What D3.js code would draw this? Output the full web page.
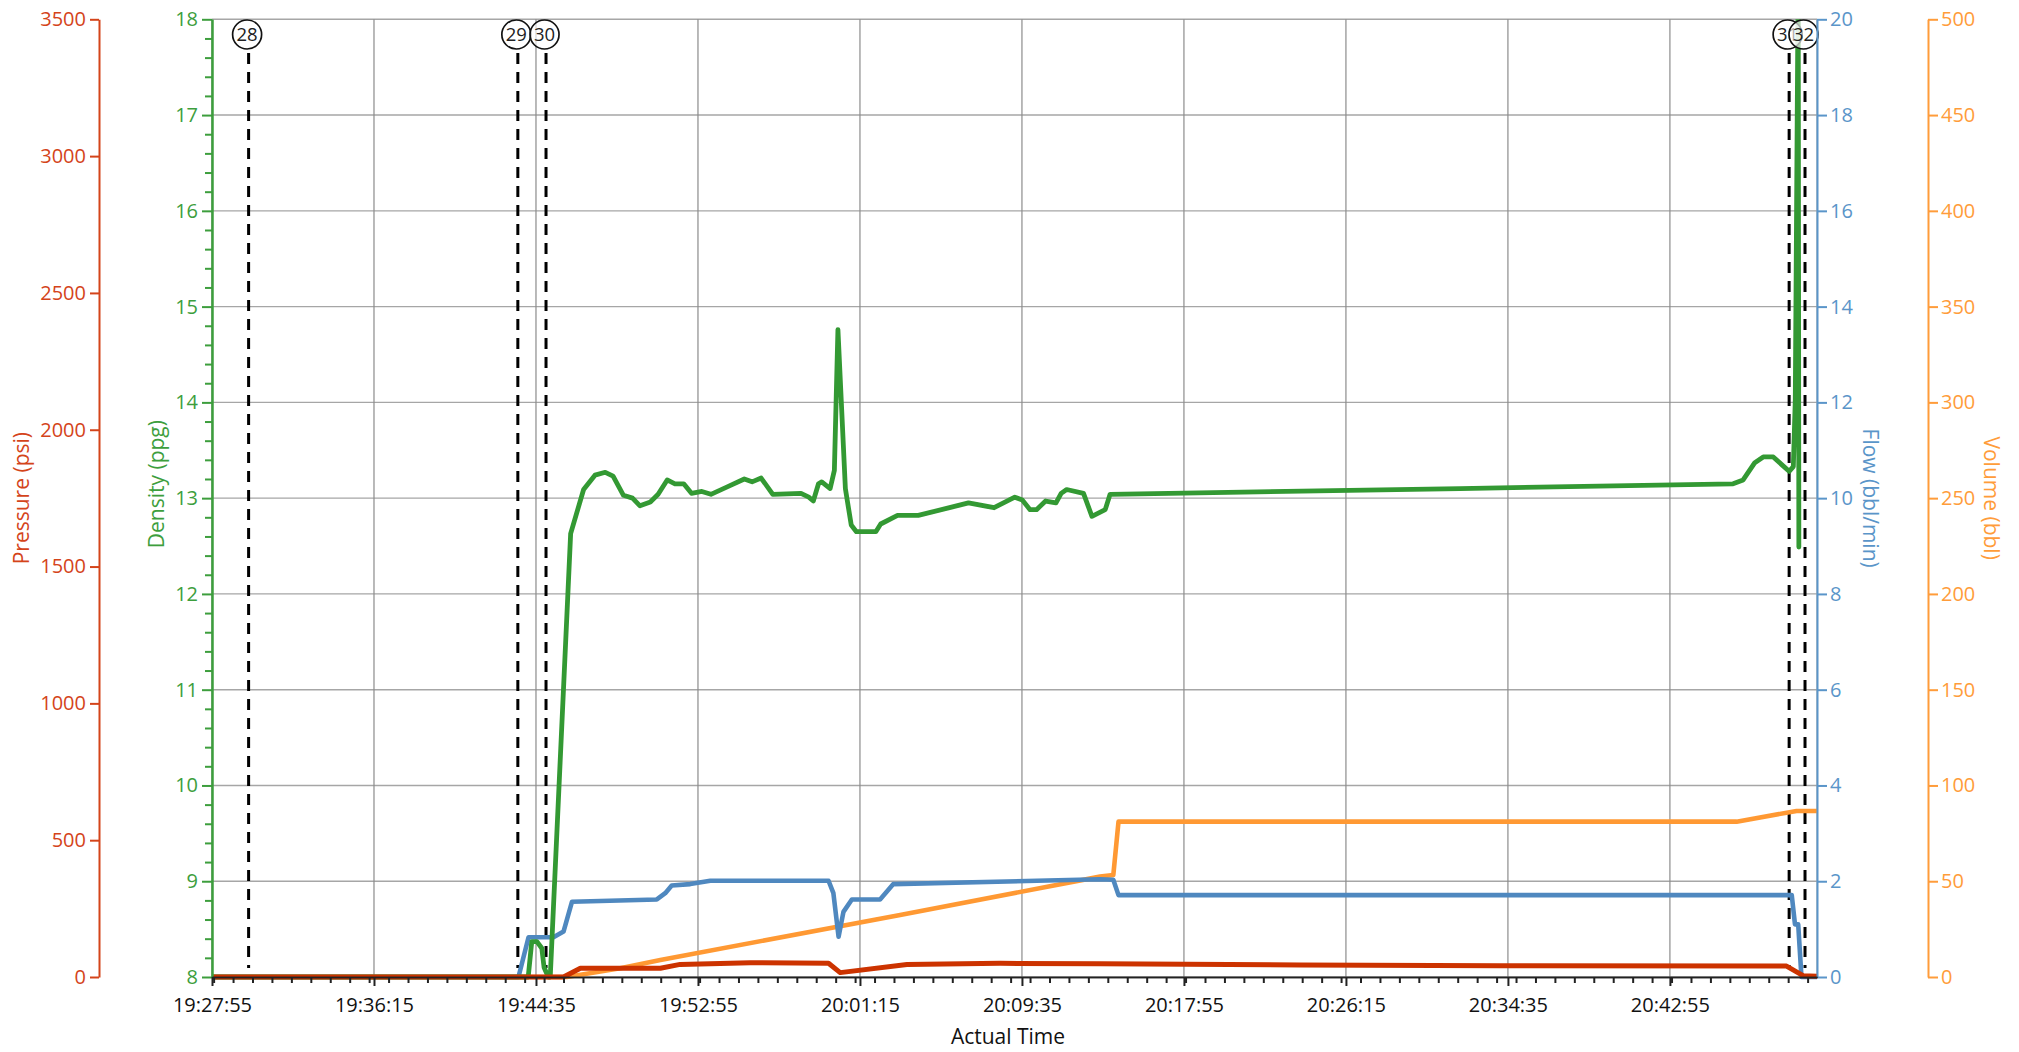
<!DOCTYPE html>
<html><head><meta charset="utf-8">
<script src="https://cdn.jsdelivr.net/npm/d3@7"></script>
<style>
html,body{margin:0;padding:0;background:#fff;}
svg{display:block;}
text{font-family:"Open Sans",sans-serif;}
</style></head><body>
<svg id="chart" width="2019" height="1052"></svg>
<script>
// ---------- DATA ----------
const startTime = "19:27:55";
const endTime = "20:50:29";
const xTickLabels = ["19:27:55","19:36:15","19:44:35","19:52:55","20:01:15","20:09:35","20:17:55","20:26:15","20:34:35","20:42:55"];
const pressureTicks = [0,500,1000,1500,2000,2500,3000,3500];
const densityTicks = [8,9,10,11,12,13,14,15,16,17,18];
const flowTicks = [0,2,4,6,8,10,12,14,16,18,20];
const volumeTicks = [0,50,100,150,200,250,300,350,400,450,500];

const densityTimes = ["19:27:55","19:44:11","19:44:22","19:44:38","19:44:53","19:45:00","19:45:13","19:45:19","19:46:22","19:47:02","19:47:37","19:48:09","19:48:33","19:49:05","19:49:33","19:49:56","19:50:28","19:50:52","19:51:20","19:51:44","19:52:11","19:52:35","19:53:07","19:53:35","19:54:27","19:55:18","19:55:42","19:56:10","19:56:46","19:58:13","19:58:37","19:58:51","19:59:07","19:59:17","19:59:43","19:59:56","20:00:07","20:00:30","20:00:48","20:01:04","20:02:04","20:02:19","20:03:11","20:04:15","20:06:50","20:08:09","20:09:13","20:09:36","20:10:00","20:10:20","20:10:48","20:11:20","20:11:36","20:11:53","20:12:45","20:13:11","20:13:52","20:14:07","20:32:07","20:46:10","20:46:41","20:47:17","20:47:43","20:48:14","20:48:40","20:49:03","20:49:16","20:49:22","20:49:31","20:49:33"];
const densityValues = [8,8,8.37,8.37,8.3,8.1,8,8,12.63,13.09,13.24,13.27,13.23,13.03,13.0,12.92,12.96,13.04,13.19,13.15,13.15,13.05,13.07,13.04,13.12,13.20,13.17,13.21,13.04,13.05,13.01,12.97,13.15,13.17,13.10,13.29,14.76,13.1,12.72,12.65,12.65,12.73,12.82,12.82,12.95,12.90,13.01,12.98,12.88,12.88,12.97,12.95,13.05,13.09,13.05,12.81,12.88,13.04,13.10,13.15,13.19,13.37,13.43,13.43,13.35,13.28,13.33,14.03,18.5,12.49];

const flowTimes = ["19:27:55","19:43:41","19:44:12","19:45:29","19:46:00","19:46:26","19:50:48","19:51:14","19:51:34","19:52:31","19:53:33","19:59:38","19:59:53","20:00:09","20:00:24","20:00:50","20:02:17","20:02:58","20:13:36","20:14:17","20:14:33","20:49:11","20:49:21","20:49:31","20:49:41","20:50:29"];
const flowValues = [0,0,0.83,0.83,0.95,1.57,1.62,1.75,1.91,1.94,2.01,2.01,1.75,0.84,1.36,1.62,1.62,1.94,2.04,2.03,1.71,1.71,1.1,1.1,0,0];

const pressureTimes = ["19:27:55","19:46:00","19:46:52","19:50:59","19:52:00","19:55:36","19:59:38","20:00:14","20:03:40","20:08:28","20:13:36","20:23:54","20:34:10","20:48:55","20:49:46","20:50:29"];
const pressureValues = [0,0,32,32,46,52,50,16,46,50,48,44,41,40,5,3];

const volumeTimes = ["19:27:55","19:46:10","19:48:55","19:50:59","20:03:19","20:13:36","20:14:17","20:14:33","20:46:21","20:49:26","20:50:29"];
const volumeValues = [0,0,4.6,8.9,32.4,52.4,53.3,81.1,81.1,86.7,86.7];

const eventLabels = ["28","29","30","31","32"];
const eventTimes = ["19:29:48","19:43:39","19:45:06","20:49:03","20:49:52"];

// ---------- LAYOUT ----------
const L = 212, R = 1817, T = 19.3, B = 977;
const cPressAxis = "#d4441a", cPressLine = "#cc3300";
const cDensAxis = "#3d9e3d", cDensLine = "#339933";
const cFlowAxis = "#5a95c9", cFlowLine = "#4f88bf";
const cVolAxis = "#ff9c3a", cVolLine = "#ff9933";

const parse = d3.timeParse("%H:%M:%S");
const svg = d3.select("#chart");

const x = d3.scaleTime().domain([parse(startTime), parse(endTime)]).range([L, R]);
const yP = d3.scaleLinear().domain([0,3500]).range([B,T]);
const yD = d3.scaleLinear().domain([8,18]).range([B,T]);
const yF = d3.scaleLinear().domain([0,20]).range([B,T]);
const yV = d3.scaleLinear().domain([0,500]).range([B,T]);

// grid
const grid = svg.append("g");
grid.selectAll("line.h").data(densityTicks).join("line")
  .attr("x1", L).attr("x2", R).attr("y1", d=>yD(d)).attr("y2", d=>yD(d))
  .attr("stroke", "#a6a6a6").attr("stroke-width", 1.4);
const xTickDates = xTickLabels.map(parse);
grid.selectAll("line.v").data(xTickDates).join("line")
  .attr("x1", d=>x(d)).attr("x2", d=>x(d)).attr("y1", T).attr("y2", B)
  .attr("stroke", "#8c8c8c").attr("stroke-width", 1.2);
grid.append("line").attr("x1", R).attr("x2", R).attr("y1", T).attr("y2", B)
  .attr("stroke", "#a6a6a6").attr("stroke-width", 1.2);

// clip
svg.append("clipPath").attr("id","plotclip").append("rect")
  .attr("x", L).attr("y", T).attr("width", R-L).attr("height", B-T+4);

// event dashed lines
const ev = eventTimes.map((t,i)=>({t:parse(t), label:eventLabels[i]}));
svg.append("g").selectAll("line").data(ev).join("line")
  .attr("x1", d=>x(d.t)).attr("x2", d=>x(d.t)).attr("y1", 53).attr("y2", 968)
  .attr("stroke", "#000").attr("stroke-width", 3).attr("stroke-dasharray", "11,8");

// lines
const plot = svg.append("g").attr("clip-path","url(#plotclip)");
function drawLine(times, values, y, color, w){
  const data = times.map((t,i)=>({t:parse(t), v:values[i]}));
  plot.append("path").datum(data)
    .attr("fill","none").attr("stroke",color).attr("stroke-width",w)
    .attr("stroke-linejoin","round").attr("stroke-linecap","round")
    .attr("d", d3.line().x(d=>x(d.t)).y(d=>y(d.v)));
}
drawLine(volumeTimes, volumeValues, yV, cVolLine, 4.6);
drawLine(flowTimes, flowValues, yF, cFlowLine, 4.6);
drawLine(densityTimes, densityValues, yD, cDensLine, 4.8);
drawLine(pressureTimes, pressureValues, yP, cPressLine, 5);

// event markers
const evg = svg.append("g").selectAll("g").data(ev).join("g")
  .attr("transform", d=>`translate(${x(d.t)-1.5},34.5)`);
evg.append("circle").attr("r", 14.5).attr("fill","rgba(255,255,255,0.65)")
  .attr("stroke","#111").attr("stroke-width",1.7);
evg.append("text").text(d=>d.label).attr("text-anchor","middle").attr("dy","0.36em")
  .attr("font-size", 18.5).attr("fill","#222");

// axes
function styleAxis(g, color){
  g.selectAll("path.domain").attr("stroke", color).attr("stroke-width", 2);
  g.selectAll(".tick line").attr("stroke", color).attr("stroke-width", 2);
  g.selectAll(".tick text").attr("fill", color).attr("font-size", 20)
    .attr("font-family", "'Open Sans',sans-serif");
}
// pressure
const gP = svg.append("g").attr("transform","translate(99,0)")
  .call(d3.axisLeft(yP).tickValues(pressureTicks).tickSize(9).tickSizeOuter(0).tickPadding(4).tickFormat(d3.format("d")));
styleAxis(gP, cPressAxis);
// density minor
const minorD = d3.range(80,181,2).map(v=>v/10).filter(v=>!densityTicks.includes(v));
const gDm = svg.append("g").attr("transform",`translate(${L},0)`)
  .call(d3.axisLeft(yD).tickValues(minorD).tickSize(7).tickSizeOuter(0).tickFormat(""));
styleAxis(gDm, cDensAxis);
const gD = svg.append("g").attr("transform",`translate(${L},0)`)
  .call(d3.axisLeft(yD).tickValues(densityTicks).tickSize(10).tickSizeOuter(0).tickPadding(4).tickFormat(d3.format("d")));
styleAxis(gD, cDensAxis);
// flow
const gF = svg.append("g").attr("transform",`translate(${R},0)`)
  .call(d3.axisRight(yF).tickValues(flowTicks).tickSize(10).tickSizeOuter(0).tickPadding(3).tickFormat(d3.format("d")));
styleAxis(gF, cFlowAxis);
// volume
const gV = svg.append("g").attr("transform","translate(1928,0)")
  .call(d3.axisRight(yV).tickValues(volumeTicks).tickSize(10).tickSizeOuter(0).tickPadding(3).tickFormat(d3.format("d")));
styleAxis(gV, cVolAxis);

// x axis
const t0 = parse(startTime), t1 = parse(endTime);
const minorX = d3.timeSecond.every(100).range(t0, t1).filter(d=>((d - t0)/1000) % 500 !== 0);
const gXm = svg.append("g").attr("transform",`translate(0,${B})`)
  .call(d3.axisBottom(x).tickValues(minorX).tickSize(6).tickSizeOuter(0).tickFormat(""));
styleAxis(gXm, "#222");
const gX = svg.append("g").attr("transform",`translate(0,${B})`)
  .call(d3.axisBottom(x).tickValues(xTickDates).tickSize(9).tickSizeOuter(0).tickPadding(12).tickFormat(d3.timeFormat("%H:%M:%S")));
styleAxis(gX, "#222");
gX.selectAll(".tick text").attr("fill","#111");
gX.select("path.domain").attr("stroke-width",1.5);
gXm.select("path.domain").attr("stroke-width",1.5);

// axis titles
const mid = (T+B)/2;
svg.append("text").text("Pressure (psi)").attr("transform",`translate(22,${mid}) rotate(-90)`)
  .attr("text-anchor","middle").attr("dy","0.35em").attr("font-size",21).attr("fill",cPressAxis);
svg.append("text").text("Density (ppg)").attr("transform",`translate(157,${mid-14}) rotate(-90)`)
  .attr("text-anchor","middle").attr("dy","0.35em").attr("font-size",21).attr("fill",cDensAxis);
svg.append("text").text("Flow (bbl/min)").attr("transform",`translate(1870,${mid}) rotate(90)`)
  .attr("text-anchor","middle").attr("dy","0.35em").attr("font-size",21).attr("fill",cFlowAxis);
svg.append("text").text("Volume (bbl)").attr("transform",`translate(1991,${mid}) rotate(90)`)
  .attr("text-anchor","middle").attr("dy","0.35em").attr("font-size",21).attr("fill",cVolAxis);
svg.append("text").text("Actual Time").attr("x",1008).attr("y",1044)
  .attr("text-anchor","middle").attr("font-size",21).attr("fill","#111");
</script>
</body></html>
